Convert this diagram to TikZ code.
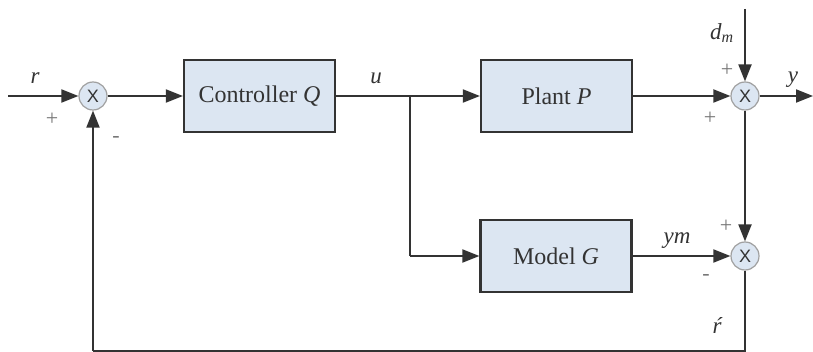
\documentclass[tikz,border=0pt]{standalone}
\usepackage{fontspec}
\setmainfont{Liberation Serif}
\setsansfont{Liberation Sans}
\usetikzlibrary{arrows.meta}
\definecolor{boxfill}{HTML}{DCE6F2}
\definecolor{linec}{HTML}{333333}
\definecolor{signc}{HTML}{777777}
\begin{document}
\begin{tikzpicture}[x=1pt,y=-1pt,
  blk/.style={draw=linec,line width=2.2pt,fill=boxfill,minimum width=151pt,minimum height=72pt,inner sep=0pt,font=\fontsize{24}{26}\selectfont,text=linec},
  sumnode/.style={circle,draw=signc!70,line width=1.2pt,fill=boxfill,minimum size=28pt,inner sep=0pt,font=\sffamily\fontsize{18}{18}\selectfont,text=linec},
  wire/.style={draw=linec,line width=2pt},
  arr/.style={wire,-{Triangle[length=17pt,width=13pt]}},
  lbl/.style={font=\itshape\fontsize{23}{25}\selectfont,text=linec,inner sep=0pt},
  sgn/.style={font=\fontsize{22}{24}\selectfont,text=signc,inner sep=0pt}
]
\useasboundingbox (0,0) rectangle (813,352);
\node[sumnode] (s1) at (93,96) {X};
\node[blk] (ctrl) at (259.5,96) {Controller \textit{Q}};
\node[blk] (plant) at (556.5,96) {Plant \textit{P}};
\node[blk] (model) at (556,256) {Model \textit{G}};
\node[sumnode] (s2) at (745,96) {X};
\node[sumnode] (s3) at (745,256) {X};
\coordinate (in) at (8,96);
\coordinate (out) at (813,96);
\coordinate (br) at (410,96);
\coordinate (brd) at (410,256);
\coordinate (dm) at (745,9);
\coordinate (bR) at (745,351);
\coordinate (bL) at (93,351);

\draw[arr] (in) -- (s1);
\draw[arr] (s1) -- (ctrl);
\draw[wire] (ctrl.east) -- (br);
\draw[arr] (br) -- (plant);
\draw[wire] (br) -- (brd);
\draw[arr] (brd) -- (model);
\draw[arr] (plant) -- (s2);
\draw[arr] (dm) -- (s2);
\draw[arr] (s2) -- (out);
\draw[arr] (s2) -- (s3);
\draw[arr] (model) -- (s3);
\draw[wire] (s3) -- (bR) -- (bL);
\draw[arr] (bL) -- (s1);

\node[lbl] (lr) at (35,78) {r};
\node[sgn] (p1) at (52,119) {+};
\node[sgn] (m1) at (116,140) {-};
\node[lbl] (lu) at (376,78) {u};
\node[lbl] (ldm) at (722,33) {d\textsubscript{\fontsize{16}{17}\selectfont m}};
\node[sgn] (p2) at (727,70) {+};
\node[lbl] (ly) at (793,80) {y};
\node[sgn] (p3) at (710,118) {+};
\node[lbl] (lym) at (677,241) {ym};
\node[sgn] (p4) at (726,226) {+};
\node[sgn] (m2) at (706,277) {-};
\node[lbl] (lrp) at (717,326) {ŕ};
\end{tikzpicture}
\end{document}
